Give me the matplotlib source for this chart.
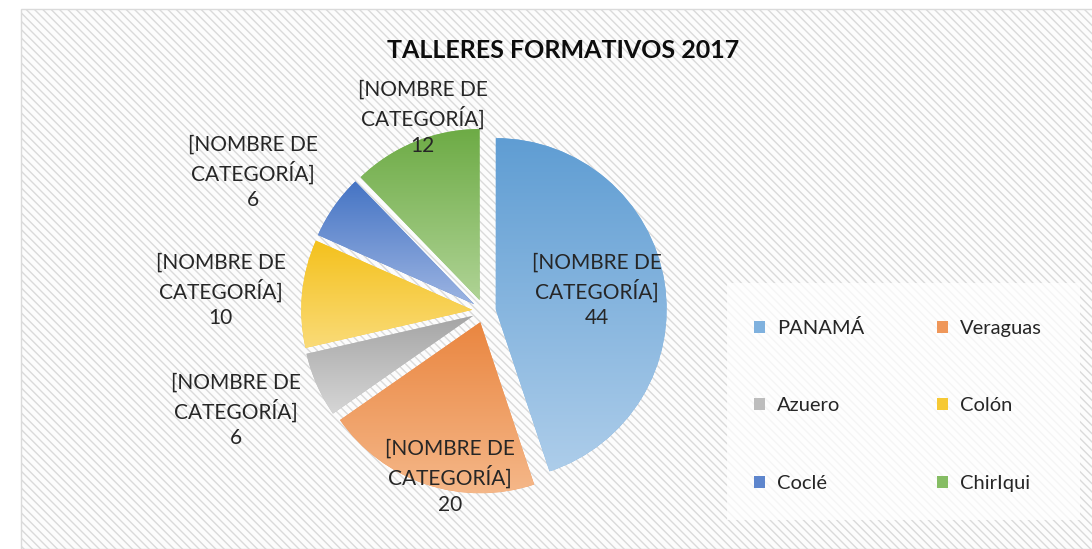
import numpy as np
import matplotlib
matplotlib.use('Agg')
import matplotlib.pyplot as plt
from matplotlib.patches import Rectangle, Patch
from matplotlib.colors import LinearSegmentedColormap

regions = ['PANAMÁ', 'Veraguas', 'Azuero', 'Colón', 'Coclé', 'ChirIqui']
talleres = [44, 20, 6, 10, 6, 12]
label_text = '[NOMBRE DE\nCATEGORÍA]\n{}'

# gradient colours per slice (top, bottom) and legend colour
grad_top = ['#5f9dd3', '#ea8640', '#a5a5a5', '#f4c11c', '#4574c4', '#6dab45']
grad_bot = ['#adcdea', '#f5b88a', '#d6d6d6', '#fadb78', '#9cb4e2', '#afd395']
legend_col = ['#7fb1de', '#ef975a', '#bdbdbd', '#f6c935', '#5e86cd', '#86bd64']

# label positions relative to pie centre (layout, in radius units)
label_pos = [(0.66, 0.12), (-0.20, -0.97), (-1.45, -0.58),
             (-1.54, 0.12), (-1.35, 0.81), (-0.36, 1.13)]

plt.rcParams['font.family'] = ['Lato', 'DejaVu Sans']
plt.rcParams['hatch.color'] = '#efefef'
plt.rcParams['hatch.linewidth'] = 1.0

W, H = 1092, 549
fig = plt.figure(figsize=(W / 100, H / 100), dpi=100)
fig.patch.set_facecolor('white')

# chart area with diagonal stripes
bg = Rectangle((21 / W, 0), 1.0, 1 - 9 / H, transform=fig.transFigure,
               facecolor='#fcfcfc', edgecolor='#dadada', lw=1.0,
               hatch='\\' * 4, zorder=-2)
fig.patches.append(bg)

# legend box
lbox = Rectangle((727 / W, 1 - 520 / H), (1080 - 727) / W, (520 - 283) / H,
                 transform=fig.transFigure, facecolor='white', alpha=0.75,
                 edgecolor='none', zorder=-1)
fig.patches.append(lbox)

# pie axes, centre at (484, 311) px, radius 171 px
r_px = 171
lim = 1.2
half = lim * r_px
cx, cy = 484, 311
ax = fig.add_axes([(cx - half) / W, (H - cy - half) / H, 2 * half / W, 2 * half / H])
ax.set_zorder(1)
ax.patch.set_visible(False)
ax.axis('off')

wedges, _ = ax.pie(talleres, startangle=90, counterclock=False,
                   explode=[0.069] * len(talleres), radius=1.0,
                   colors=legend_col,
                   wedgeprops=dict(edgecolor='none'))

for i, w in enumerate(wedges):
    v = w.get_path().vertices
    x0, x1 = v[:, 0].min(), v[:, 0].max()
    y0, y1 = v[:, 1].min(), v[:, 1].max()
    cmap = LinearSegmentedColormap.from_list('g%d' % i, [grad_bot[i], grad_top[i]])
    grad = np.linspace(0, 1, 256).reshape(-1, 1)
    im = ax.imshow(grad, extent=[x0, x1, y0, y1], origin='lower', cmap=cmap,
                   aspect='auto', zorder=2, interpolation='bilinear')
    im.set_clip_path(w)

ax.set_xlim(-lim, lim)
ax.set_ylim(-lim, lim)
ax.set_aspect('equal')

for i, (lx, ly) in enumerate(label_pos):
    ax.text(lx, ly, label_text.format(talleres[i]), ha='center', va='center',
            fontsize=15, color='#262626', linespacing=1.35, zorder=5)

fig.text(563 / W, 1 - 51 / H, 'TALLERES FORMATIVOS 2017', ha='center', va='center',
         fontsize=18, fontweight='bold', color='#0d0d0d')

handles = [Patch(facecolor=c, edgecolor='none', label=n) for c, n in zip(legend_col, regions)]
order = [0, 2, 4, 1, 3, 5]  # row-major filling for two columns
leg = fig.legend(handles=[handles[k] for k in order], ncol=2, loc='upper left',
                 bbox_to_anchor=(754 / W, 1 - 319 / H), frameon=False,
                 fontsize=14.5, handlelength=0.55, handleheight=0.55,
                 handletextpad=0.6, labelspacing=3.0, columnspacing=3.6,
                 borderpad=0, borderaxespad=0, labelcolor='#262626')

fig.savefig('out.png', dpi=100)
